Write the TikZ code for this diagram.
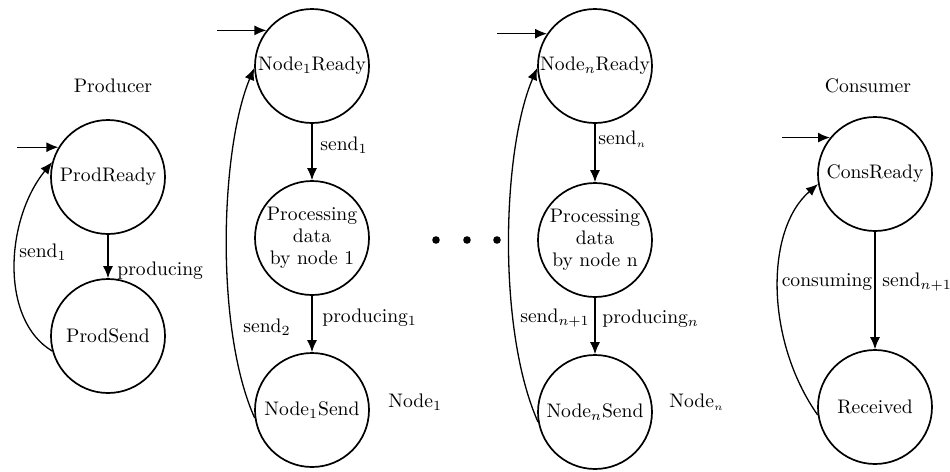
\documentclass[tikz,border=0pt]{standalone}
\usetikzlibrary{arrows.meta}
\begin{document}
\begin{tikzpicture}[x=0.5pt,y=-0.5pt,
  font=\fontsize{9.8pt}{11pt}\selectfont,
  state/.style={circle,draw,line width=0.85pt,minimum size=57pt,inner sep=0pt,align=center},
  tr/.style={-{Latex[length=6pt,width=5pt]},line width=0.65pt},
  lbl/.style={inner sep=1pt},
  rl/.style={inner sep=1pt,anchor=west},
  dotmark/.style={circle,fill,inner sep=0pt,minimum size=3.8pt}]
\useasboundingbox (0,0) rectangle (950,472);
% Producer
\node[lbl] (ptitle) at (113,86) {Producer};
\node[state] (pr) at (108,177) {ProdReady};
\node[state] (ps) at (108,336) {ProdSend};
\coordinate (pin) at (17,0);
\draw[tr] (pin |- pr.149) -- (pr.149);
\draw[tr] (pr) -- (ps);
\node[rl] (plab) at (115,271) {producing};
\draw[tr] (ps.195) .. controls (0,320) and (5,220) .. (pr.165);
\node[lbl] (pslab) at (43,252) {send$_1$};
% Node 1
\node[state] (n1r) at (312,66) {Node$_1$Ready};
\node[state] (n1p) at (312,238) {Processing\\data\\by node 1};
\node[state] (n1s) at (312,410) {Node$_1$Send};
\node[rl] (n1lab) at (386,402) {Node$_1$};
\coordinate (n1in) at (217,0);
\draw[tr] (n1in |- n1r.142) -- (n1r.142);
\draw[tr] (n1r) -- (n1p);
\node[rl] (n1a) at (318,145) {send$_1$};
\draw[tr] (n1p) -- (n1s);
\node[rl] (n1b) at (320,318) {producing$_1$};
\draw[tr] (n1s.188) .. controls (215,330) and (220,150) .. (n1r.182);
\node[lbl] (n1c) at (267,327) {send$_2$};
% dots
\node[dotmark] (d1) at (436,240) {};
\node[dotmark] (d2) at (467,240) {};
\node[dotmark] (d3) at (497,240) {};
% Node n
\node[state] (nnr) at (595,66) {Node$_n$Ready};
\node[state] (nnp) at (595,240) {Processing\\data\\by node n};
\node[state] (nns) at (595,412) {Node$_n$Send};
\node[rl] (nnlab) at (667,402) {Node$_{\scriptscriptstyle n}$};
\coordinate (nnin) at (497,0);
\draw[tr] (nnin |- nnr.146) -- (nnr.146);
\draw[tr] (nnr) -- (nnp);
\node[rl] (nna) at (596,139) {send$_{\scriptscriptstyle n}$};
\draw[tr] (nnp) -- (nns);
\node[rl] (nnb) at (600,319) {producing$_n$};
\draw[tr] (nns.190) .. controls (497,330) and (502,150) .. (nnr.182);
\node[lbl] (nnc) at (555,318) {send$_{n+1}$};
% Consumer
\node[lbl] (ctitle) at (868,86) {Consumer};
\node[state] (cr) at (875,174) {ConsReady};
\node[state] (cv) at (875,407) {Received};
\coordinate (cin) at (782,0);
\draw[tr] (cin |- cr.141) -- (cr.141);
\draw[tr] (cr) -- (cv);
\node[rl] (ca) at (880,282) {send$_{n+1}$};
\draw[tr] (cv.188) .. controls (765,340) and (765,230) .. (cr.190);
\node[lbl] (cb) at (827,282) {consuming};
\end{tikzpicture}
\end{document}
